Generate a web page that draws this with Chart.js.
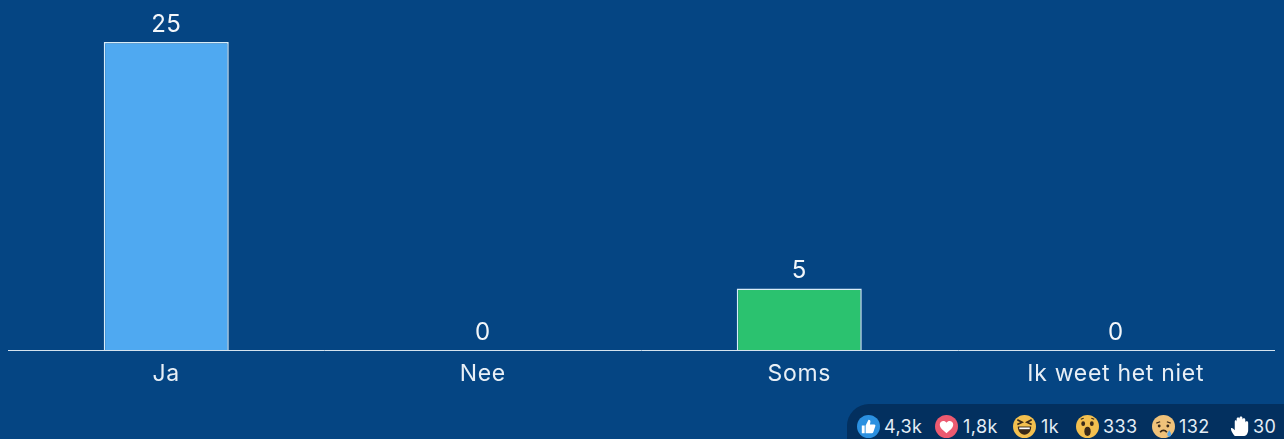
<!DOCTYPE html>
<html><head><meta charset="utf-8">
<script src="https://cdn.jsdelivr.net/npm/chart.js@4"></script>
<style>
html,body{margin:0;padding:0;background:#054583;width:1284px;height:439px;overflow:hidden}
#c{position:absolute;left:0;top:0}
#pill{position:absolute;left:847px;top:404px;width:437px;height:35px;background:#03305f;border-radius:22px 0 0 0;font:400 18px Inter,"Noto Sans",sans-serif;letter-spacing:.4px;color:#e4edf5}
.it{position:absolute;top:12px;line-height:22px;white-space:nowrap}
svg{position:absolute;top:11px;width:23px;height:23px}
</style></head><body>
<canvas id="c" width="1284" height="439"></canvas>
<div id="pill">
<svg style="left:10px" viewBox="0 0 24 24"><circle cx="12" cy="12" r="12" fill="#2b90e0"/><path d="M5 11h3v8H5zM9 11l3-6c1.600 0 2 1 2 2l-.5 3H18c1 0 1.500 1 1 2l-2 6c-.3.700-.7 1-1.500 1H9z" fill="#fff"/></svg>
<span class="it" style="left:37px">4,3k</span>
<svg style="left:88px" viewBox="0 0 24 24"><circle cx="12" cy="12" r="12" fill="#ec5a70"/><path d="M12 19c-5-4-7-6-7-9 0-4 5-5 7-2 2-3 7-2 7 2 0 3-2 5-7 9z" fill="#fff"/></svg>
<span class="it" style="left:116px">1,8k</span>
<svg style="left:166px" viewBox="0 0 24 24"><circle cx="12" cy="12" r="12" fill="#f3c04f"/><path d="M5 12h14c0 5-3 8.500-7 8.500S5 17 5 12z" fill="#3a2a1a"/><path d="M6.500 13h11v1.800h-11z" fill="#fff"/><path d="M4.500 5l5 2.500-5 2.500M19.500 5l-5 2.500 5 2.500" stroke="#3a2a1a" stroke-width="1.800" fill="none"/></svg>
<span class="it" style="left:194px">1k</span>
<svg style="left:229px" viewBox="0 0 24 24"><circle cx="12" cy="12" r="12" fill="#f3c04f"/><ellipse cx="7.500" cy="9" rx="2" ry="2.600" fill="#3a2a1a"/><ellipse cx="16.500" cy="9" rx="2" ry="2.600" fill="#3a2a1a"/><path d="M5 4.500l3-1.200M19 4.500l-3-1.200" stroke="#3a2a1a" stroke-width="1.200"/><ellipse cx="12" cy="17" rx="3.300" ry="4.800" fill="#3a2a1a"/></svg>
<span class="it" style="left:256px">333</span>
<svg style="left:305px" viewBox="0 0 24 24"><circle cx="12" cy="12" r="12" fill="#efc27a"/><circle cx="7.500" cy="11.500" r="1.500" fill="#3a2a1a"/><circle cx="16.500" cy="11.500" r="1.500" fill="#3a2a1a"/><path d="M4.500 8.500l4-1.500M19.500 8.500l-4-1.500" stroke="#3a2a1a" stroke-width="1.200"/><path d="M8.500 18c2-2.500 5-2.500 7 0" stroke="#3a2a1a" stroke-width="1.800" fill="none"/><path d="M18 16c1.500 2.500 2 3 2 4.500a2 2 0 0 1-4 0c0-1.500.5-2 2-4.500z" fill="#5aa7e8"/></svg>
<span class="it" style="left:332px">132</span>
<svg style="left:382px" viewBox="0 0 24 24"><path d="M6 22c-2-3-4-5-4-8 1-1 2 0 4 2V7c0-2 2-2 2 0V4c0-2 3-2 3 0V3c0-2 3-2 3 0v2c0-2 3-2 3 0v3c0-2 3-2 3 0v8c0 3-2 6-4 6z" fill="#fff"/></svg>
<span class="it" style="left:406px">30</span>
</div>
<script>
const categories = ["Ja", "Nee", "Soms", "Ik weet het niet"];
const values = [25, 0, 5, 0];
const barColors = ["#4fa9f1", "#4fa9f1", "#2bc26f", "#2bc26f"];
const font = 'Inter, "Noto Sans", sans-serif';

const valueLabels = {
  id: 'valueLabels',
  beforeDraw(chart) { chart.ctx.letterSpacing = '0.7px'; },
  afterDatasetsDraw(chart) {
    const {ctx} = chart;
    const meta = chart.getDatasetMeta(0);
    ctx.save();
    ctx.letterSpacing = '0.3px';
    ctx.fillStyle = '#f2f6fa';
    ctx.font = '24px ' + font;
    ctx.textAlign = 'center';
    ctx.textBaseline = 'alphabetic';
    meta.data.forEach((bar, i) => ctx.fillText(String(values[i]), bar.x, bar.y - 10.5));
    ctx.restore();
  }
};

new Chart(document.getElementById('c'), {
  type: 'bar',
  data: { labels: categories, datasets: [{
    data: values,
    backgroundColor: barColors,
    borderColor: '#d8ecf8',
    borderWidth: 1.5,
    barPercentage: 0.395,
    categoryPercentage: 1
  }]},
  plugins: [valueLabels],
  options: {
    responsive: false,
    animation: false,
    layout: { padding: { left: 8, right: 10, top: 0, bottom: 0 } },
    plugins: { legend: { display: false }, tooltip: { enabled: false } },
    scales: {
      x: {
        afterFit(s) { s.height = 89; },
        grid: { display: false, drawTicks: false },
        border: { display: true, color: '#d5e3ef', width: 1 },
        ticks: { color: '#e8eff6', font: { family: font, size: 23 }, padding: 10, maxRotation: 0 }
      },
      y: { display: false, min: 0, max: 28.41 }
    }
  }
});
</script>
</body></html>
